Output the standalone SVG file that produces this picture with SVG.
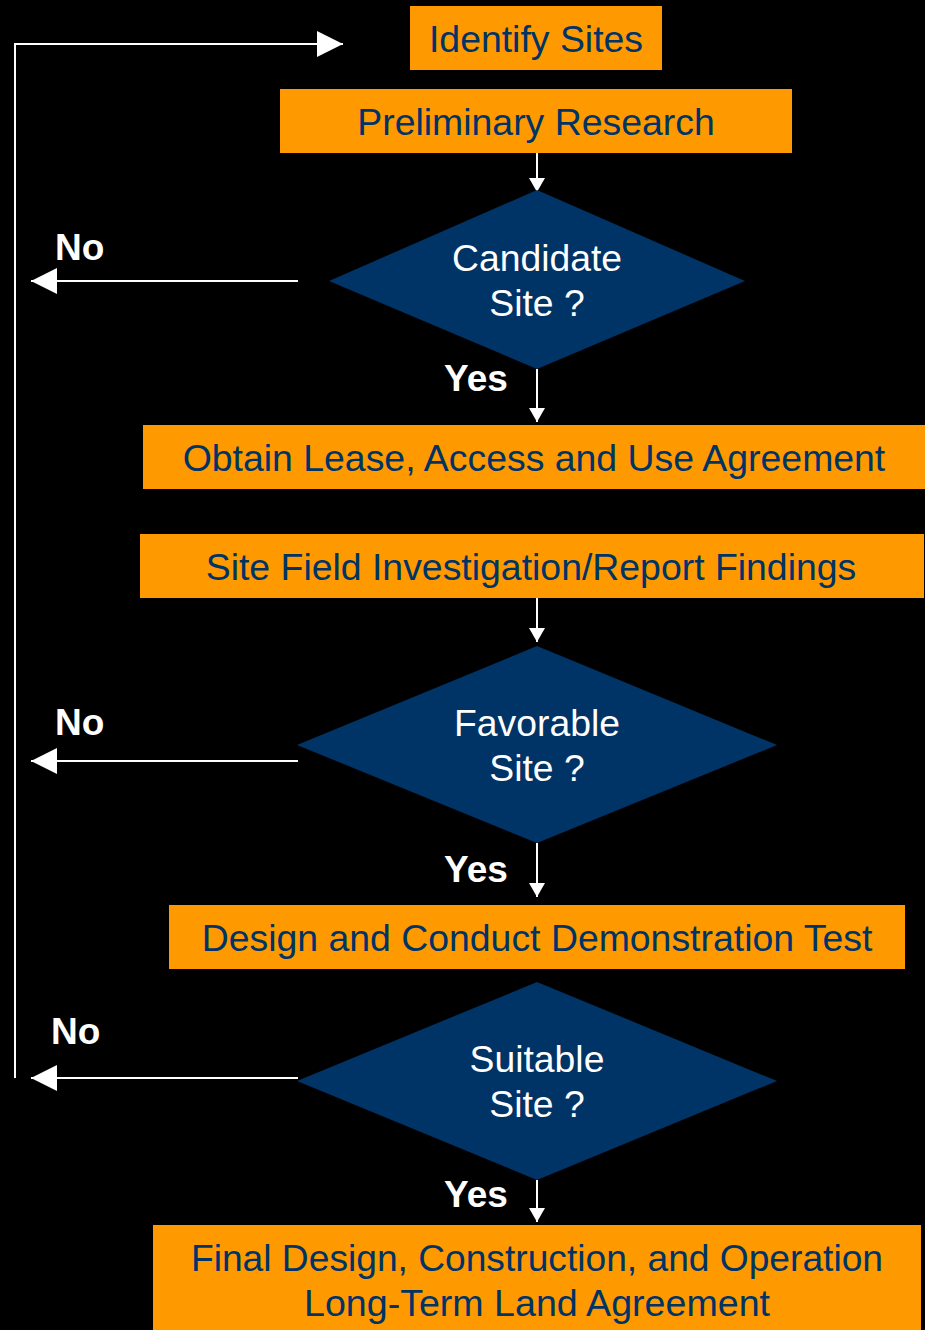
<svg xmlns="http://www.w3.org/2000/svg" width="925" height="1330" viewBox="0 0 925 1330">
<defs>
<style>
.box{fill:#FF9900}
.dia{fill:#003366}
.bt{font-family:"Liberation Sans",Arial,sans-serif;font-size:37.4px;fill:#003366;text-anchor:middle}
.dt{font-family:"Liberation Sans",Arial,sans-serif;font-size:37.3px;fill:#FFFFFF;text-anchor:middle}
.lbl{font-family:"Liberation Sans",Arial,sans-serif;font-size:37px;font-weight:bold;fill:#FFFFFF}
.ln{stroke:#FFFFFF;stroke-width:2;fill:none}
</style>
<marker id="big" markerUnits="userSpaceOnUse" markerWidth="26" markerHeight="26" refX="26" refY="13" orient="auto">
<path d="M0,0 L26,13 L0,26 Z" fill="#FFFFFF"/>
</marker>
<marker id="small" markerUnits="userSpaceOnUse" markerWidth="16" markerHeight="16" refX="14" refY="8" orient="auto">
<path d="M0,0 L14,8 L0,16 Z" fill="#FFFFFF"/>
</marker>
</defs>
<rect width="925" height="1330" fill="#000000"/>
<g id="connectors">
<path class="ln" d="M15,1078 L15,44 L343,44" marker-end="url(#big)"/>
<path class="ln" d="M298,281 L31,281" marker-end="url(#big)"/>
<path class="ln" d="M298,761 L31,761" marker-end="url(#big)"/>
<path class="ln" d="M298,1078 L31,1078" marker-end="url(#big)"/>
<path class="ln" d="M537,153 L537,192" marker-end="url(#small)"/>
<path class="ln" d="M537,369 L537,422" marker-end="url(#small)"/>
<path class="ln" d="M537,598 L537,642" marker-end="url(#small)"/>
<path class="ln" d="M537,843 L537,897" marker-end="url(#small)"/>
<path class="ln" d="M537,1180 L537,1222" marker-end="url(#small)"/>
<text class="lbl" x="55" y="260">No</text>
<text class="lbl" x="55" y="735">No</text>
<text class="lbl" x="51" y="1044">No</text>
<text class="lbl" x="444" y="391">Yes</text>
<text class="lbl" x="444" y="882">Yes</text>
<text class="lbl" x="444" y="1207">Yes</text>
</g>
<g id="identify">
<rect class="box" x="410" y="6" width="252" height="64"/>
<text class="bt" x="536" y="52">Identify Sites</text>
</g>
<g id="preliminary">
<rect class="box" x="280" y="89" width="512" height="64"/>
<text class="bt" x="536" y="135">Preliminary Research</text>
</g>
<g id="candidate">
<polygon class="dia" points="537,190 745,281 537,369 329,281"/>
<text class="dt" x="537" y="271">Candidate</text>
<text class="dt" x="537" y="316">Site ?</text>
</g>
<g id="lease">
<rect class="box" x="143" y="425" width="782" height="64"/>
<text class="bt" x="534" y="471">Obtain Lease, Access and Use Agreement</text>
</g>
<g id="field">
<rect class="box" x="140" y="534" width="784" height="64"/>
<text class="bt" x="531" y="580">Site Field Investigation/Report Findings</text>
</g>
<g id="favorable">
<polygon class="dia" points="537,646 777,745 537,843 297,745"/>
<text class="dt" x="537" y="736">Favorable</text>
<text class="dt" x="537" y="781">Site ?</text>
</g>
<g id="demo">
<rect class="box" x="169" y="905" width="736" height="64"/>
<text class="bt" x="537" y="951">Design and Conduct Demonstration Test</text>
</g>
<g id="suitable">
<polygon class="dia" points="537,982 777,1081 537,1180 297,1081"/>
<text class="dt" x="537" y="1072">Suitable</text>
<text class="dt" x="537" y="1117">Site ?</text>
</g>
<g id="final">
<rect class="box" x="153" y="1225" width="768" height="105"/>
<text class="bt" x="537" y="1271" textLength="692" lengthAdjust="spacingAndGlyphs">Final Design, Construction, and Operation</text>
<text class="bt" x="537" y="1316" textLength="466" lengthAdjust="spacingAndGlyphs">Long-Term Land Agreement</text>
</g>
</svg>
